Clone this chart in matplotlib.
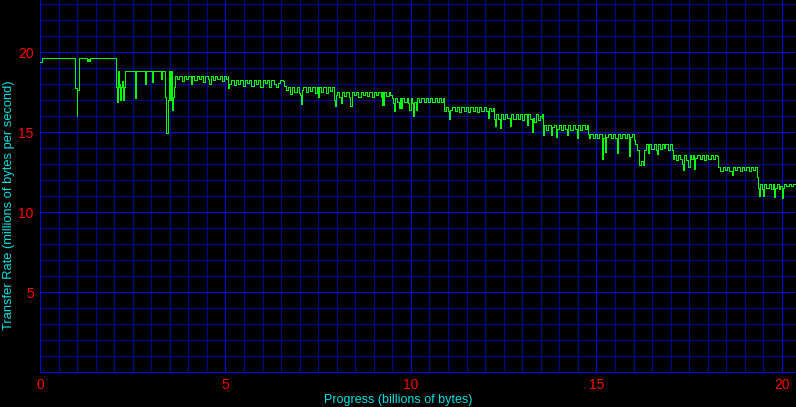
import matplotlib
matplotlib.use("Agg")
import matplotlib.pyplot as plt
from matplotlib.ticker import MultipleLocator, FixedLocator

# ---- data ----
progress_gb = [
    0.00, 0.05, 0.94, 0.95, 0.99, 1.01, 1.04, 1.25, 1.27, 1.30, 1.33, 1.36, 2.02, 2.04, 2.06,
    2.08, 2.10, 2.13, 2.15, 2.17, 2.19, 2.21, 2.24, 2.26, 2.28, 2.55, 2.56, 2.58, 2.60, 2.80,
    2.82, 2.85, 3.00, 3.02, 3.05, 3.25, 3.27, 3.30, 3.36, 3.37, 3.39, 3.41, 3.44, 3.47, 3.50,
    3.53, 3.56, 3.58, 3.61, 3.63,
    3.70, 3.76, 3.82, 3.88, 3.94, 4.00, 4.06, 4.10, 4.16, 4.22, 4.28, 4.34, 4.40, 4.46, 4.52,
    4.56, 4.60, 4.66, 4.72, 4.78, 4.84, 4.90, 4.96, 5.02, 5.07, 5.08, 5.10,
    5.16, 5.22, 5.28, 5.34, 5.40, 5.46, 5.52, 5.58, 5.64, 5.70, 5.76, 5.82, 5.88, 5.94, 6.00,
    6.06, 6.12, 6.18, 6.24, 6.30, 6.36, 6.42, 6.48, 6.55, 6.58, 6.62,
    6.68, 6.74, 6.80, 6.86, 6.92, 6.98, 7.02, 7.03, 7.05, 7.10, 7.16, 7.22, 7.28, 7.34, 7.40,
    7.46, 7.50, 7.53, 7.58, 7.64, 7.70, 7.76, 7.82, 7.88, 7.93, 7.95, 7.97, 8.00,
    8.06, 8.12, 8.15, 8.20, 8.26, 8.32, 8.37, 8.40, 8.46, 8.52, 8.58, 8.64, 8.70, 8.76, 8.82,
    8.88, 8.94, 9.00, 9.06, 9.12, 9.18, 9.21, 9.23, 9.25, 9.28, 9.34, 9.40, 9.43,
    9.48, 9.52, 9.54, 9.57, 9.62, 9.67, 9.70, 9.73, 9.76, 9.82, 9.88, 9.93, 9.96, 9.99, 10.03,
    10.06, 10.09, 10.13, 10.16, 10.22, 10.28, 10.34, 10.40, 10.46, 10.52, 10.58, 10.64, 10.70,
    10.76, 10.82, 10.86,
    10.88, 10.94, 11.00, 11.03, 11.06, 11.12, 11.18, 11.24, 11.30, 11.36, 11.42, 11.48, 11.54,
    11.60, 11.66, 11.72, 11.78, 11.84, 11.90, 11.96, 12.02, 12.07, 12.10, 12.16, 12.20,
    12.24, 12.26, 12.29, 12.34, 12.40, 12.43, 12.48, 12.54, 12.60, 12.67, 12.70, 12.76, 12.82,
    12.88, 12.94, 13.00, 13.06, 13.13, 13.16, 13.21, 13.26, 13.29, 13.33, 13.38, 13.43, 13.48,
    13.52, 13.53, 13.55,
    13.56, 13.59, 13.64, 13.70, 13.77, 13.80, 13.85, 13.90, 13.93, 13.98, 14.04, 14.10, 14.16,
    14.21, 14.24, 14.30, 14.36, 14.42, 14.47, 14.50, 14.56, 14.62, 14.68, 14.74, 14.77,
    14.80, 14.84, 14.90, 14.96, 15.02, 15.08, 15.14, 15.16, 15.19, 15.22, 15.24, 15.27, 15.32,
    15.38, 15.44, 15.50, 15.56, 15.59, 15.64, 15.70, 15.76, 15.82, 15.88, 15.91, 15.96, 16.00,
    16.05, 16.10, 16.16, 16.20, 16.25, 16.28, 16.33, 16.38, 16.42, 16.48, 16.54, 16.60, 16.64,
    16.67, 16.72, 16.78, 16.82, 16.86, 16.92, 16.98, 17.03, 17.06, 17.09,
    17.14, 17.20, 17.26, 17.31, 17.34, 17.37, 17.42, 17.48, 17.51, 17.56, 17.60, 17.64, 17.67,
    17.72, 17.78, 17.84, 17.90, 17.96, 18.02, 18.08, 18.14, 18.20, 18.26, 18.28,
    18.34, 18.40, 18.46, 18.52, 18.58, 18.65, 18.68, 18.74, 18.80, 18.86, 18.92, 18.98, 19.04,
    19.10, 19.16, 19.22, 19.28, 19.32, 19.34, 19.36,
    19.38, 19.41, 19.46, 19.50, 19.53, 19.58, 19.64, 19.70, 19.75, 19.78, 19.81, 19.86, 19.92,
    19.96, 19.99, 20.02, 20.06, 20.12, 20.18, 20.24, 20.30, 20.38,
]

rate_mbps = [
    19.40, 19.60, 19.60, 17.75, 16.00, 17.60, 19.60, 19.60, 19.45, 19.55, 19.45, 19.60, 19.60, 19.10, 17.80,
    16.90, 18.80, 17.80, 18.00, 17.00, 17.80, 18.20, 17.00, 17.80, 18.80, 18.80, 17.10, 18.20, 18.80, 18.80,
    18.00, 18.80, 18.80, 18.10, 18.80, 18.80, 18.30, 18.80, 18.80, 17.20, 15.20, 14.95, 17.00, 18.80, 17.00,
    18.80, 16.40, 17.20, 17.80, 18.50,
    18.30, 18.50, 18.20, 18.50, 18.30, 18.50, 18.00, 18.50, 18.25, 18.50, 18.30, 18.50, 18.10, 18.50, 18.30,
    18.00, 18.50, 18.25, 18.50, 18.30, 18.50, 18.20, 18.50, 18.30, 18.50, 17.75, 18.00,
    18.25, 17.95, 18.25, 18.00, 18.25, 17.90, 18.25, 18.05, 18.25, 17.90, 18.25, 18.00, 18.25, 17.80, 18.25,
    18.05, 18.25, 17.80, 18.25, 18.00, 17.80, 18.05, 18.25, 18.20, 17.90, 17.60,
    17.80, 17.40, 17.80, 17.50, 17.80, 17.45, 17.30, 16.75, 17.60, 17.80, 17.50, 17.80, 17.55, 17.80, 17.45,
    17.80, 17.20, 17.80, 17.50, 17.80, 17.45, 17.80, 17.55, 17.80, 17.00, 16.60, 17.30, 17.50,
    17.20, 16.80, 17.50, 17.25, 17.50, 17.20, 16.65, 17.50, 17.30, 17.50, 17.20, 17.50, 17.30, 17.50, 17.25,
    17.50, 17.20, 17.50, 17.30, 17.50, 17.20, 16.70, 17.50, 16.70, 17.50, 17.25, 17.50, 17.30,
    17.15, 16.80, 16.30, 17.15, 16.90, 16.50, 17.15, 16.50, 17.15, 16.85, 17.15, 16.80, 16.40, 17.15, 16.80,
    16.00, 16.90, 16.40, 17.15, 16.90, 17.15, 16.85, 17.15, 16.90, 17.15, 16.85, 17.15, 16.90,
    17.15, 16.85, 17.10,
    16.30, 16.55, 16.30, 15.80, 16.40, 16.55, 16.30, 16.55, 16.25, 16.55, 16.30, 16.55, 16.25,
    16.55, 16.30, 16.55, 16.25, 16.55, 16.30, 16.55, 16.30, 15.90, 16.50, 16.30, 16.50,
    15.80, 15.35, 16.10, 15.80, 15.27, 16.10, 15.80, 16.10, 15.85, 15.38, 16.10, 15.80, 16.10,
    15.80, 16.10, 15.75, 16.10, 15.45, 16.10, 15.80, 14.98, 15.90, 15.60, 16.10, 15.75, 16.00,
    15.90, 16.10, 15.40,
    14.80, 15.45, 15.15, 15.45, 14.80, 15.30, 15.45, 14.70, 15.20, 15.45, 15.15, 15.45, 15.20,
    14.80, 15.45, 15.15, 15.45, 15.20, 14.60, 15.45, 15.15, 15.45, 15.20, 15.45, 14.85,
    14.60, 14.85, 14.60, 14.85, 14.65, 14.85, 14.60, 13.30, 14.60, 14.85, 13.77, 14.70, 14.85,
    14.60, 14.85, 14.65, 13.67, 14.85, 14.60, 14.85, 14.65, 14.85, 13.50, 14.70, 14.85, 14.50,
    14.25, 13.90, 12.94, 13.20, 12.95, 13.90, 14.25, 13.67, 14.25, 13.95, 14.25, 13.90, 13.60,
    14.25, 13.95, 14.25, 14.00, 14.25, 13.90, 14.25, 13.90, 13.30, 13.56,
    13.25, 13.56, 13.30, 13.00, 12.60, 13.56, 13.25, 12.83, 13.56, 13.30, 13.56, 12.70, 13.40,
    13.56, 13.30, 13.56, 13.25, 13.56, 13.30, 13.56, 13.30, 13.56, 13.50, 12.83,
    12.55, 12.83, 12.60, 12.83, 12.55, 12.30, 12.83, 12.60, 12.83, 12.55, 12.83, 12.60, 12.83,
    12.55, 12.83, 12.60, 12.83, 12.80, 12.20, 11.50,
    11.00, 11.75, 11.45, 11.00, 11.75, 11.50, 11.75, 11.45, 11.75, 10.95, 11.50, 11.75, 11.45,
    11.60, 10.90, 11.50, 11.75, 11.60, 11.75, 11.60, 11.75, 11.70,
]

x_ticks = [0, 5, 10, 15, 20]
y_ticks = [5, 10, 15, 20]
x_label = "Progress (billions of bytes)"
y_label = "Transfer Rate (millions of bytes per second)"

# ---- figure ----
W, H = 796, 407
fig = plt.figure(figsize=(W / 100, H / 100), dpi=100, facecolor="black")
ax = fig.add_axes([40 / W, (H - 372) / H, (W - 40) / W, 372 / H], facecolor="black")

ax.set_xlim(0, 20.38)
ax.set_ylim(0, 23.25)

ax.xaxis.set_major_locator(FixedLocator(x_ticks))
ax.yaxis.set_major_locator(FixedLocator(y_ticks))
ax.xaxis.set_minor_locator(MultipleLocator(0.5))
ax.yaxis.set_minor_locator(MultipleLocator(1))

ax.grid(which="minor", color="#00009c", linewidth=0.7, antialiased=False, zorder=0)
ax.grid(which="major", color="#0000ff", linewidth=0.7, antialiased=False, zorder=0)
ax.set_axisbelow(True)

for side in ["top", "right"]:
    ax.spines[side].set_visible(False)
for side in ["left", "bottom"]:
    ax.spines[side].set_color("#0000ff")
    ax.spines[side].set_linewidth(0.7)
    ax.spines[side].set_antialiased(False)

ax.tick_params(which="both", length=0)
ax.tick_params(axis="x", colors="#ff0000", labelsize=10, pad=4.5)
ax.tick_params(axis="y", colors="#ff0000", labelsize=10, pad=4.5)
for lab in ax.get_xticklabels() + ax.get_yticklabels():
    lab.set_fontfamily("Liberation Sans")

ax.plot(progress_gb, rate_mbps, color="#00ff00", linewidth=0.6,
        drawstyle="steps-post", antialiased=False, zorder=3)

fig.text(0.5, 3.5 / H, x_label, color="#00e0e0", fontsize=9,
         family="Liberation Sans", ha="center", va="baseline")
fig.text(9 / W, 0.497, y_label, color="#00e0e0", fontsize=9.3,
         family="Liberation Sans", ha="center", va="center", rotation=90)

fig.savefig("out.png", dpi=100, facecolor="black")
